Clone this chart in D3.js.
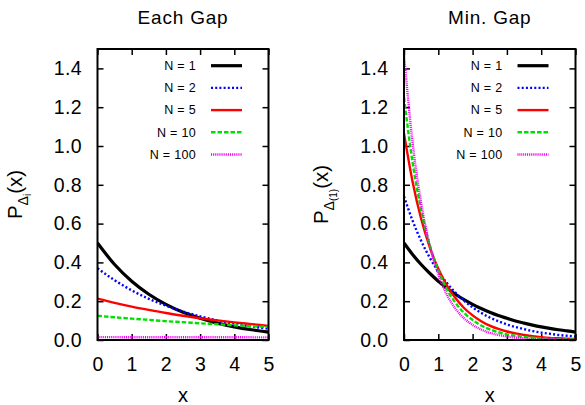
<!DOCTYPE html>
<html>
<head>
<meta charset="utf-8">
<script src="https://cdn.jsdelivr.net/npm/d3@7"></script>
<style>
  html, body { margin: 0; padding: 0; background: #fff; }
  svg { display: block; font-family: "Liberation Sans", Arial, Helvetica, sans-serif; }
</style>
</head>
<body>
<svg id="chart" width="585" height="405"></svg>
<script>
// ---------------- data ----------------
const panelTitles = ["Each Gap", "Min. Gap"];
const seriesNames = ["N = 1", "N = 2", "N = 5", "N = 10", "N = 100"];
const xTicks = [0, 1, 2, 3, 4, 5];
const yTicks = [0, 0.2, 0.4, 0.6, 0.8, 1.0, 1.2, 1.4];

// Each gap panel (x sampled every 0.5)
const xEach = [0, 0.5, 1, 1.5, 2, 2.5, 3, 3.5, 4, 4.5, 5];
const eachN1   = [0.500, 0.389, 0.303, 0.236, 0.184, 0.143, 0.112, 0.087, 0.068, 0.053, 0.041];
const eachN2   = [0.370, 0.308, 0.256, 0.212, 0.177, 0.147, 0.122, 0.101, 0.084, 0.070, 0.058];
const eachN5   = [0.213, 0.191, 0.172, 0.155, 0.139, 0.125, 0.112, 0.101, 0.091, 0.082, 0.073];
const eachN10  = [0.125, 0.117, 0.110, 0.104, 0.097, 0.092, 0.086, 0.081, 0.076, 0.071, 0.067];
const eachN100 = [0.0147, 0.0146, 0.0145, 0.0144, 0.0143, 0.0142, 0.0141, 0.0140, 0.0139, 0.0138, 0.0137];

// Min gap panel (x sampled every 0.25)
const xMin = [0, 0.25, 0.5, 0.75, 1, 1.25, 1.5, 1.75, 2, 2.25, 2.5, 2.75, 3, 3.25, 3.5, 3.75, 4, 4.25, 4.5, 4.75, 5];
const minN1   = [0.500, 0.441, 0.389, 0.344, 0.303, 0.268, 0.236, 0.208, 0.184, 0.162, 0.143, 0.126, 0.112, 0.098, 0.087, 0.077, 0.068, 0.060, 0.053, 0.047, 0.041];
const minN2   = [0.740, 0.615, 0.511, 0.425, 0.353, 0.294, 0.244, 0.203, 0.168, 0.140, 0.116, 0.097, 0.080, 0.067, 0.056, 0.046, 0.038, 0.032, 0.026, 0.022, 0.018];
const minN5   = [1.065, 0.816, 0.625, 0.479, 0.367, 0.281, 0.216, 0.165, 0.127, 0.097, 0.074, 0.057, 0.044, 0.034, 0.026, 0.020, 0.015, 0.011, 0.009, 0.007, 0.005];
const minN10  = [1.250, 0.915, 0.669, 0.490, 0.358, 0.262, 0.192, 0.140, 0.103, 0.075, 0.055, 0.040, 0.029, 0.022, 0.016, 0.012, 0.008, 0.006, 0.004, 0.003, 0.002];
const minN100 = [1.470, 1.018, 0.705, 0.488, 0.338, 0.234, 0.162, 0.112, 0.078, 0.054, 0.037, 0.026, 0.018, 0.012, 0.009, 0.006, 0.004, 0.003, 0.002, 0.001, 0.001];

// ---------------- styles ----------------
const styles = [
  { color: "#000000", width: 3.2, dash: null },
  { color: "#0000ff", width: 2.4, dash: "2,2.2" },
  { color: "#ff0000", width: 2.4, dash: null },
  { color: "#00e000", width: 2.4, dash: "4.5,2" },
  { color: "#f000f0", width: 2.4, dash: "1,0.9" }
];

const panels = [
  { title: panelTitles[0], xs: xEach, ys: [eachN1, eachN2, eachN5, eachN10, eachN100],
    left: 97.5, right: 268.5, sub: "i", labelX: 22 },
  { title: panelTitles[1], xs: xMin, ys: [minN1, minN2, minN5, minN10, minN100],
    left: 404, right: 575.5, sub: "(1)", labelX: 328 }
];

const plotTop = 49, plotBottom = 340;
const svg = d3.select("#chart");

panels.forEach((p, pi) => {
  const x = d3.scaleLinear().domain([0, 5]).range([p.left, p.right]);
  const y = d3.scaleLinear().domain([0, 1.5]).range([plotBottom, plotTop]);
  const g = svg.append("g");

  const clipId = "clip" + pi;
  svg.append("clipPath").attr("id", clipId)
    .append("rect").attr("x", p.left).attr("y", plotTop)
    .attr("width", p.right - p.left).attr("height", plotBottom - plotTop);

  // axes
  const fontSize = 19.5;
  const ax = g.append("g").attr("transform", `translate(0,${plotBottom})`)
    .call(d3.axisBottom(x).tickValues(xTicks).tickFormat(d3.format("d"))
      .tickSizeInner(-6).tickSizeOuter(0).tickPadding(17));
  const ay = g.append("g").attr("transform", `translate(${p.left},0)`)
    .call(d3.axisLeft(y).tickValues(yTicks).tickFormat(d3.format(".1f"))
      .tickSizeInner(-6).tickSizeOuter(0).tickPadding(15.5));
  const at = g.append("g").attr("transform", `translate(0,${plotTop})`)
    .call(d3.axisTop(x).tickValues(xTicks).tickFormat("")
      .tickSizeInner(-6).tickSizeOuter(0));
  const ar = g.append("g").attr("transform", `translate(${p.right},0)`)
    .call(d3.axisRight(y).tickValues(yTicks).tickFormat("")
      .tickSizeInner(-6).tickSizeOuter(0));
  [ax, ay, at, ar].forEach(a => {
    a.select(".domain").remove();
    a.selectAll("line").attr("stroke", "#000").attr("stroke-width", 1.5);
    a.selectAll("text").attr("font-size", fontSize)
      .attr("font-family", "Liberation Sans, Arial, sans-serif")
      .attr("fill", "#000").style("letter-spacing", "0.4px");
  });

  // curves
  const line = d3.line()
    .x((d, i) => x(p.xs[i]))
    .y(d => y(d))
    .curve(d3.curveMonotoneX);
  p.ys.forEach((vals, si) => {
    const s = styles[si];
    g.append("path").datum(vals)
      .attr("clip-path", `url(#${clipId})`)
      .attr("d", line)
      .attr("fill", "none")
      .attr("stroke", s.color)
      .attr("stroke-width", s.width)
      .attr("stroke-dasharray", s.dash);
  });

  // frame
  g.append("rect").attr("x", p.left).attr("y", plotTop)
    .attr("width", p.right - p.left).attr("height", plotBottom - plotTop)
    .attr("fill", "none").attr("stroke", "#000").attr("stroke-width", 2);

  // legend
  const legTextX = p.left + 98.5;
  const legX1 = p.left + 113.5, legX2 = p.left + 144.5;
  seriesNames.forEach((name, si) => {
    const ly = 65.7 + si * 22.2;
    const s = styles[si];
    g.append("text").attr("x", legTextX).attr("y", ly).attr("dy", "0.35em")
      .attr("text-anchor", "end").attr("font-size", 12.5).attr("fill", "#000")
      .style("letter-spacing", "0.3px")
      .text(name);
    g.append("line").attr("x1", legX1).attr("x2", legX2).attr("y1", ly).attr("y2", ly)
      .attr("stroke", s.color).attr("stroke-width", s.width)
      .attr("stroke-dasharray", s.dash);
  });

  // title
  g.append("text").attr("x", (p.left + p.right) / 2).attr("y", 24)
    .attr("text-anchor", "middle").attr("font-size", 19)
    .style("letter-spacing", "0.8px").text(p.title);

  // x label
  g.append("text").attr("x", (p.left + p.right) / 2).attr("y", 402)
    .attr("text-anchor", "middle").attr("font-size", 20).text("x");

  // y label
  const yl = g.append("text")
    .attr("transform", `translate(${p.labelX},${(plotTop + plotBottom) / 2}) rotate(-90)`)
    .attr("text-anchor", "middle").attr("font-size", 20.5);
  yl.append("tspan").text("P");
  yl.append("tspan").attr("font-size", 14).attr("dy", 5.5).text("Δ");
  yl.append("tspan").attr("font-size", 10).attr("dy", 3).text(p.sub);
  yl.append("tspan").attr("font-size", 20.5).attr("dy", -8.5).text("(x)");
});
</script>
</body>
</html>
